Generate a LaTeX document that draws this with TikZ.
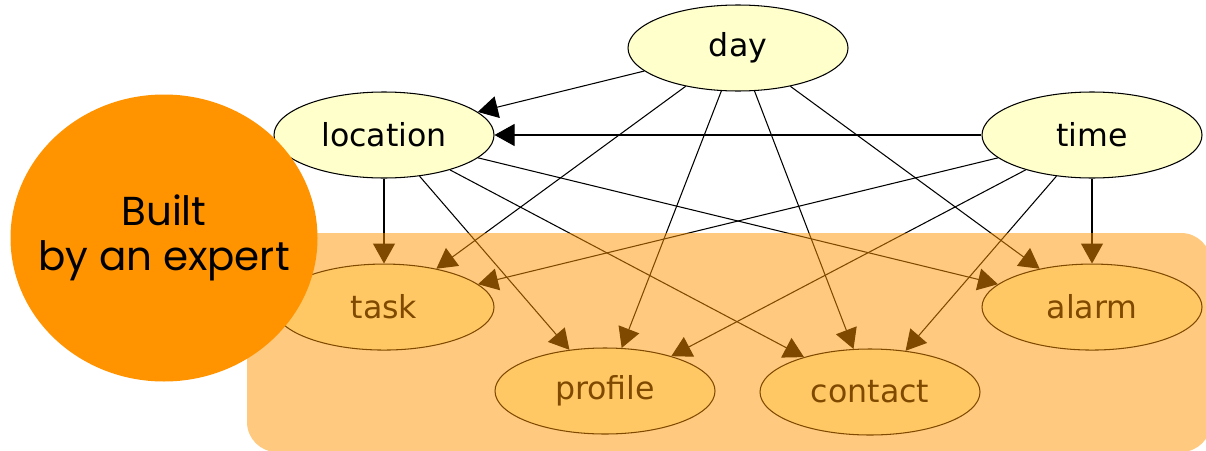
\documentclass[tikz,border=0pt]{standalone}
\usepackage{fontspec}
\setmainfont{DejaVu Sans}
\newfontfamily\handfont{Poppins}
\usetikzlibrary{arrows.meta, positioning, shapes.geometric}

\begin{document}
\begin{tikzpicture}[x=0.1mm, y=-0.1mm,
    concept/.style={ellipse, draw, line width=0.3pt, fill=conceptcolor, minimum width=22mm, minimum height=8.6mm, inner sep=0pt, font=\fontsize{9}{11}\selectfont},
    arrow/.style={-{Triangle[length=2mm, width=2.2mm]}, line width=0.3pt},
    expert/.style={ellipse, fill=expertcolor, minimum width=30.7mm, minimum height=28.7mm, inner sep=0pt},
    expert_text/.style={align=center, font=\handfont\fontsize{11.5}{13}\selectfont}]

    % Define colors
    \definecolor{conceptcolor}{RGB}{255,255,204}
    \definecolor{expertcolor}{RGB}{255,147,0}

    \useasboundingbox (0,0) rectangle (1206,450);

    % Nodes
    \node[concept] (day) at (738,48) {day};
    \node[concept] (location) at (384,135) {location};
    \node[concept] (time) at (1092,135) {time};
    \node[concept, below=8.5mm of location] (task) {task};
    \node[concept, below=8.5mm of time] (alarm) {alarm};
    \node[concept] (profile) at (605,391) {profile};
    \node[concept] (contact) at (870,392) {contact};

    % Arrows
    \draw[arrow] (day) -- (location);
    \draw[arrow] (time) -- (location);
    \foreach \src in {day, location, time}
        \foreach \dst in {task, profile, contact, alarm}
            \draw[arrow] (\src) -- (\dst);

    % Expert region
    \fill[expertcolor, opacity=0.5, rounded corners=3mm] (247,233) rectangle (1211,452);
    \node[expert] (builder) at (164,238) {};
    \node[expert_text] (builder_text) at (builder) {Built\\by an expert};

\end{tikzpicture}
\end{document}
